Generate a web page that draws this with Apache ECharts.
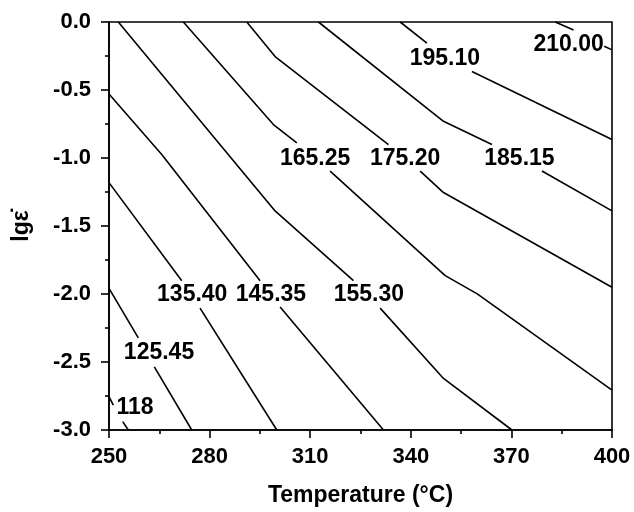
<!DOCTYPE html>
<html>
<head>
<meta charset="utf-8">
<script src="https://cdn.jsdelivr.net/npm/echarts@6/dist/echarts.min.js"></script>
<style>
  html, body { margin: 0; padding: 0; background: #fff; }
  #chart-container { width: 634px; height: 512px; }
</style>
</head>
<body>
<div id="chart-container"></div>
<script>
// contour levels, as printed on the plot
const levels = ['118', '125.45', '135.40', '145.35', '155.30', '165.25', '175.20', '185.15', '195.10', '210.00'];

// each contour is [temperature, lg strain rate]; null = gap where the label sits
const c118 = [[250, -2.755], [251.28, -2.817], null, [254.09, -2.938], [255.76, -3.0]];
const c125 = [[250, -1.959], [258.74, -2.323], null, [263.52, -2.536], [274.68, -3.0]];
const c135 = [[250, -1.181], [271.69, -1.902], null, [277.15, -2.104], [300.04, -3.0]];
const c145 = [[250, -0.529], [265.73, -0.974], [295.06, -1.902], null, [301.03, -2.096], [331.85, -3.0]];
const c155 = [[252.78, 0], [299.53, -1.389], [322.9, -1.902], null, [330.86, -2.104], [349.75, -2.621], [370.16, -3.0]];
const c165 = [[272.17, 0], [299.03, -0.754], [306.01, -0.888], null, [315.94, -1.096], [350.26, -1.865], [359.81, -1.999], [400, -2.707]];
const c175 = [[291.09, 0], [299.53, -0.254], [333.34, -0.901], null, [342.8, -1.096], [349.75, -1.254], [400, -1.950]];
const c185 = [[312.45, 0], [349.75, -0.730], [364.19, -0.901], null, [379.11, -1.096], [400, -1.389]];
const c195 = [[336.83, 0], [344.8, -0.156], null, [358.23, -0.364], [400, -0.864]];
const c210 = [[383.08, 0], [388.54, -0.059], null, [397.7, -0.179], [400, -0.205]];
const contours = [c118, c125, c135, c145, c155, c165, c175, c185, c195, c210];

// where each level label is centred
const labelT = [257.76, 264.92, 274.82, 298.29, 327.49, 311.47, 338.32, 372.4, 350.17, 387.06];
const labelLg = [-2.834, -2.429, -2.008, -2.008, -2.004, -1.002, -1.002, -1.002, -0.266, -0.166];

const xTicks = { min: 250, max: 400, interval: 30 };
const yTicks = { min: -3, max: 0, interval: 0.5 };

const font = '"Liberation Sans", Arial, sans-serif';

// split a contour at its nulls so every piece becomes its own line
function pieces(pts) {
    const out = [[]];
    pts.forEach(p => {
        if (p === null) out.push([]);
        else out[out.length - 1].push(p);
    });
    return out;
}

const series = [];
contours.forEach(c => {
    pieces(c).forEach(seg => {
        series.push({
            type: 'line',
            data: seg,
            showSymbol: false,
            silent: true,
            lineStyle: { color: '#000', width: 1.6 },
            z: 2
        });
    });
});

series.push({
    type: 'scatter',
    symbolSize: 0,
    silent: true,
    itemStyle: { opacity: 1 },
    data: levels.map((name, i) => ({ name: name, value: [labelT[i], labelLg[i]] })),
    label: {
        show: true,
        position: [0, 0],
        align: 'center',
        verticalAlign: 'middle',
        formatter: p => p.name,
        color: '#000',
        opacity: 1,
        fontFamily: font,
        fontWeight: 'bold',
        fontSize: 23
    },
    z: 3
});

const chart = echarts.init(document.getElementById('chart-container'), null, { renderer: 'canvas' });

const axisCommon = {
    axisLine: { show: true, onZero: false, lineStyle: { color: '#000', width: 1.6 } },
    axisTick: { show: true, length: 8, lineStyle: { color: '#000', width: 1.6 } },
    minorTick: { show: true, splitNumber: 2, length: 4, lineStyle: { color: '#000', width: 1.6 } },
    splitLine: { show: false },
    nameTextStyle: { color: '#000', fontFamily: font, fontWeight: 'bold', fontSize: 23 }
};

chart.setOption({
    animation: false,
    backgroundColor: '#fff',
    grid: {
        left: 109, top: 22, right: 22, bottom: 80,
        show: true, borderColor: '#000', borderWidth: 1.6
    },
    xAxis: Object.assign({}, axisCommon, {
        type: 'value',
        min: xTicks.min, max: xTicks.max, interval: xTicks.interval,
        name: 'Temperature (\u00B0C)',
        nameLocation: 'middle',
        nameGap: 54,
        axisLabel: { color: '#000', fontFamily: font, fontWeight: 'bold', fontSize: 22, margin: 16 }
    }),
    yAxis: Object.assign({}, axisCommon, {
        type: 'value',
        min: yTicks.min, max: yTicks.max, interval: yTicks.interval,
        name: 'lg\u03B5\u0307',
        nameLocation: 'middle',
        nameRotate: 90,
        nameGap: 76,
        axisLabel: {
            color: '#000', fontFamily: font, fontWeight: 'bold', fontSize: 22, margin: 18,
            formatter: v => v.toFixed(1)
        }
    }),
    series: series
});
</script>
</body>
</html>
